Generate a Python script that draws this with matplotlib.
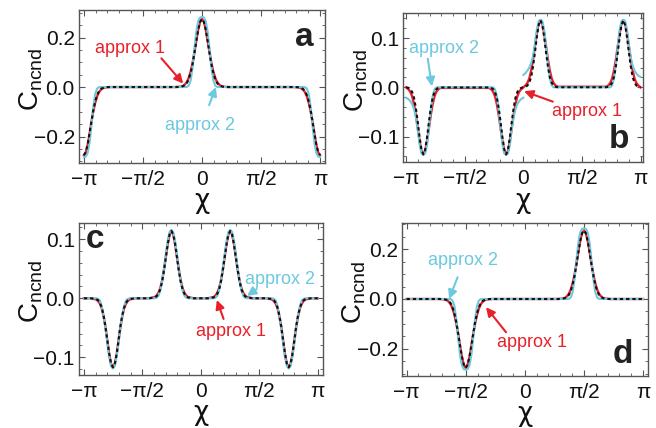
import numpy as np
import matplotlib
matplotlib.use('Agg')
import matplotlib.pyplot as plt
from matplotlib.ticker import MultipleLocator, FixedLocator, FixedFormatter

plt.rcParams['font.family'] = ['Liberation Sans', 'DejaVu Sans']
plt.rcParams['axes.unicode_minus'] = True

# ---- panel a: peak at 0, half dips at the edges ----
x_a = [-3.14, -3.09, -3.04, -2.99, -2.94, -2.89, -2.84, -2.79, -2.74, -2.69, -2.64, -2.59, -2.54, -2.44,
       -0.70, -0.60, -0.55, -0.50, -0.45, -0.40, -0.35, -0.30, -0.25, -0.20, -0.15, -0.10, -0.05, 0.00,
       0.05, 0.10, 0.15, 0.20, 0.25, 0.30, 0.35, 0.40, 0.45, 0.50, 0.55, 0.60, 0.70,
       2.44, 2.54, 2.59, 2.64, 2.69, 2.74, 2.79, 2.84, 2.89, 2.94, 2.99, 3.04, 3.09, 3.14]
exact_a = [-0.275, -0.263, -0.231, -0.186, -0.138, -0.093, -0.058, -0.033, -0.017, -0.008, -0.004, -0.0015, -0.0005, 0.0,
           0.0, 0.0005, 0.0015, 0.004, 0.008, 0.017, 0.033, 0.058, 0.093, 0.138, 0.186, 0.231, 0.263, 0.275,
           0.263, 0.231, 0.186, 0.138, 0.093, 0.058, 0.033, 0.017, 0.008, 0.004, 0.0015, 0.0005, 0.0,
           0.0, -0.0005, -0.0015, -0.004, -0.008, -0.017, -0.033, -0.058, -0.093, -0.138, -0.186, -0.231, -0.263, -0.275]
approx1_a = [-0.275, -0.264, -0.233, -0.189, -0.141, -0.097, -0.063, -0.038, -0.021, -0.011, -0.005, -0.002, -0.001, 0.0,
             0.0, 0.001, 0.002, 0.005, 0.011, 0.021, 0.038, 0.063, 0.097, 0.141, 0.189, 0.233, 0.264, 0.275,
             0.264, 0.233, 0.189, 0.141, 0.097, 0.063, 0.038, 0.021, 0.011, 0.005, 0.002, 0.001, 0.0,
             0.0, -0.001, -0.002, -0.005, -0.011, -0.021, -0.038, -0.063, -0.097, -0.141, -0.189, -0.233, -0.264, -0.275]
approx2_a = [-0.283, -0.281, -0.266, -0.225, -0.155, -0.080, -0.028, -0.006, -0.0005, 0.0, 0.0, 0.0, 0.0, 0.0,
             0.0, 0.0, 0.0, 0.0, 0.0, 0.0005, 0.006, 0.028, 0.080, 0.155, 0.225, 0.266, 0.281, 0.283,
             0.281, 0.266, 0.225, 0.155, 0.080, 0.028, 0.006, 0.0005, 0.0, 0.0, 0.0, 0.0, 0.0,
             0.0, 0.0, 0.0, 0.0, 0.0, -0.0005, -0.006, -0.028, -0.080, -0.155, -0.225, -0.266, -0.281, -0.283]

# ---- panel b: two dips, two peaks; approx 2 jumps at 0 ----
x_b = [-3.14, -3.08, -3.03, -2.98, -2.93, -2.88, -2.83, -2.78, -2.73, -2.68, -2.63, -2.58, -2.53, -2.48, -2.43, -2.38, -2.33, -2.28, -2.22,
       -0.92, -0.86, -0.81, -0.76, -0.71, -0.66, -0.61, -0.56, -0.51, -0.46, -0.41, -0.36, -0.31, -0.26, -0.21, -0.16, -0.11, -0.06, 0.0,
       0.0,
       0.0, 0.06, 0.11, 0.16, 0.21, 0.26, 0.31, 0.36, 0.41, 0.46, 0.51, 0.56, 0.61, 0.66, 0.71, 0.76, 0.81, 0.86, 0.92,
       2.22, 2.28, 2.33, 2.38, 2.43, 2.48, 2.53, 2.58, 2.63, 2.68, 2.73, 2.78, 2.83, 2.88, 2.93, 2.98, 3.03, 3.08, 3.14]
exact_b = [0.0, -0.0012, -0.0036, -0.0095, -0.021, -0.042, -0.070, -0.101, -0.126, -0.136, -0.126, -0.101, -0.070, -0.042, -0.021, -0.0095, -0.0036, -0.0012, -0.0002,
           -0.0002, -0.0012, -0.0036, -0.0095, -0.021, -0.042, -0.070, -0.101, -0.126, -0.136, -0.126, -0.101, -0.070, -0.042, -0.021, -0.0095, -0.0036, -0.0012, 0.0,
           0.0,
           0.0, 0.0012, 0.0036, 0.0095, 0.021, 0.042, 0.070, 0.101, 0.126, 0.136, 0.126, 0.101, 0.070, 0.042, 0.021, 0.0095, 0.0036, 0.0012, 0.0002,
           0.0002, 0.0012, 0.0036, 0.0095, 0.021, 0.042, 0.070, 0.101, 0.126, 0.136, 0.126, 0.101, 0.070, 0.042, 0.021, 0.0095, 0.0036, 0.0012, 0.0]
approx1_b = [0.0, -0.0039, -0.0089, -0.018, -0.034, -0.056, -0.0825, -0.109, -0.129, -0.136, -0.129, -0.109, -0.0825, -0.056, -0.034, -0.018, -0.0089, -0.0039, -0.0012,
             -0.0012, -0.0039, -0.0089, -0.018, -0.034, -0.056, -0.0825, -0.109, -0.129, -0.136, -0.129, -0.109, -0.0825, -0.056, -0.034, -0.018, -0.0089, -0.0039, 0.0,
             0.0,
             0.0, 0.0039, 0.0089, 0.018, 0.034, 0.056, 0.0825, 0.109, 0.129, 0.136, 0.129, 0.109, 0.0825, 0.056, 0.034, 0.018, 0.0089, 0.0039, 0.0012,
             0.0012, 0.0039, 0.0089, 0.018, 0.034, 0.056, 0.0825, 0.109, 0.129, 0.136, 0.129, 0.109, 0.0825, 0.056, 0.034, 0.018, 0.0089, 0.0039, 0.0]
approx2_b = [-0.021, -0.024, -0.028, -0.034, -0.044, -0.060, -0.085, -0.116, -0.134, -0.137, -0.134, -0.116, -0.082, -0.046, -0.018, -0.004, 0.0, 0.0, 0.0,
             0.0, 0.0, 0.0, -0.004, -0.018, -0.046, -0.082, -0.116, -0.134, -0.137, -0.134, -0.116, -0.085, -0.060, -0.044, -0.034, -0.028, -0.024, -0.021,
             np.nan,
             0.025, 0.029, 0.034, 0.040, 0.049, 0.063, 0.086, 0.116, 0.134, 0.137, 0.134, 0.116, 0.082, 0.046, 0.018, 0.004, 0.0, 0.0, 0.0,
             0.0, 0.0, 0.0, 0.004, 0.018, 0.046, 0.082, 0.116, 0.134, 0.137, 0.134, 0.116, 0.085, 0.060, 0.044, 0.034, 0.028, 0.024, 0.021]

# ---- panel c: dips at +-3pi/4, peaks at +-pi/4 ----
x_c = [-3.14,
       -2.96, -2.81, -2.76, -2.71, -2.66, -2.61, -2.56, -2.51, -2.46, -2.41, -2.36, -2.31, -2.26, -2.21, -2.16, -2.11, -2.06, -2.01, -1.96, -1.91, -1.76,
       -1.39, -1.24, -1.19, -1.14, -1.09, -1.04, -0.99, -0.94, -0.89, -0.84, -0.79, -0.74, -0.69, -0.64, -0.59, -0.54, -0.49, -0.44, -0.39, -0.34, -0.19,
       0.19, 0.34, 0.39, 0.44, 0.49, 0.54, 0.59, 0.64, 0.69, 0.74, 0.79, 0.84, 0.89, 0.94, 0.99, 1.04, 1.09, 1.14, 1.19, 1.24, 1.39,
       1.76, 1.91, 1.96, 2.01, 2.06, 2.11, 2.16, 2.21, 2.26, 2.31, 2.36, 2.41, 2.46, 2.51, 2.56, 2.61, 2.66, 2.71, 2.76, 2.81, 2.96,
       3.14]
exact_c = [0.0,
           0.0, -0.0013, -0.0033, -0.0077, -0.016, -0.029, -0.048, -0.071, -0.094, -0.111, -0.117, -0.111, -0.094, -0.071, -0.048, -0.029, -0.016, -0.0077, -0.0033, -0.0013, 0.0,
           0.0, 0.0013, 0.0032, 0.0075, 0.015, 0.028, 0.047, 0.069, 0.091, 0.108, 0.114, 0.108, 0.091, 0.069, 0.047, 0.028, 0.015, 0.0075, 0.0032, 0.0013, 0.0,
           0.0, 0.0013, 0.0032, 0.0075, 0.015, 0.028, 0.047, 0.069, 0.091, 0.108, 0.114, 0.108, 0.091, 0.069, 0.047, 0.028, 0.015, 0.0075, 0.0032, 0.0013, 0.0,
           0.0, -0.0013, -0.0033, -0.0077, -0.016, -0.029, -0.048, -0.071, -0.094, -0.111, -0.117, -0.111, -0.094, -0.071, -0.048, -0.029, -0.016, -0.0077, -0.0033, -0.0013, 0.0,
           0.0]
approx1_c = [0.0,
             0.0, -0.002, -0.0046, -0.0092, -0.017, -0.031, -0.049, -0.072, -0.095, -0.111, -0.117, -0.111, -0.095, -0.072, -0.049, -0.031, -0.017, -0.0092, -0.0046, -0.002, 0.0,
             0.0, 0.002, 0.0045, 0.009, 0.017, 0.030, 0.048, 0.070, 0.092, 0.108, 0.114, 0.108, 0.092, 0.070, 0.048, 0.030, 0.017, 0.009, 0.0045, 0.002, 0.0,
             0.0, 0.002, 0.0045, 0.009, 0.017, 0.030, 0.048, 0.070, 0.092, 0.108, 0.114, 0.108, 0.092, 0.070, 0.048, 0.030, 0.017, 0.009, 0.0045, 0.002, 0.0,
             0.0, -0.002, -0.0046, -0.0092, -0.017, -0.031, -0.049, -0.072, -0.095, -0.111, -0.117, -0.111, -0.095, -0.072, -0.049, -0.031, -0.017, -0.0092, -0.0046, -0.002, 0.0,
             0.0]
approx2_c = [0.0,
             0.0, 0.0, -0.001, -0.004, -0.013, -0.030, -0.051, -0.076, -0.099, -0.115, -0.119, -0.115, -0.099, -0.076, -0.051, -0.030, -0.013, -0.004, -0.001, 0.0, 0.0,
             0.0, 0.0, 0.001, 0.004, 0.013, 0.029, 0.050, 0.074, 0.097, 0.112, 0.116, 0.112, 0.097, 0.074, 0.050, 0.029, 0.013, 0.004, 0.001, 0.0, 0.0,
             0.0, 0.0, 0.001, 0.004, 0.013, 0.029, 0.050, 0.074, 0.097, 0.112, 0.116, 0.112, 0.097, 0.074, 0.050, 0.029, 0.013, 0.004, 0.001, 0.0, 0.0,
             0.0, 0.0, -0.001, -0.004, -0.013, -0.030, -0.051, -0.076, -0.099, -0.115, -0.119, -0.115, -0.099, -0.076, -0.051, -0.030, -0.013, -0.004, -0.001, 0.0, 0.0,
             0.0]

# ---- panel d: dip at -pi/2, peak at pi/2 ----
x_d = [-3.14,
       -2.27, -2.17, -2.12, -2.07, -2.02, -1.97, -1.92, -1.87, -1.82, -1.77, -1.72, -1.67, -1.62, -1.57,
       -1.52, -1.47, -1.42, -1.37, -1.32, -1.27, -1.22, -1.17, -1.12, -1.07, -1.02, -0.97, -0.87,
       0.87, 0.97, 1.02, 1.07, 1.12, 1.17, 1.22, 1.27, 1.32, 1.37, 1.42, 1.47, 1.52, 1.57,
       1.62, 1.67, 1.72, 1.77, 1.82, 1.87, 1.92, 1.97, 2.02, 2.07, 2.12, 2.17, 2.27,
       3.14]
exact_d = [0.0,
           0.0, -0.0005, -0.0015, -0.004, -0.008, -0.017, -0.033, -0.058, -0.093, -0.138, -0.186, -0.231, -0.263, -0.276,
           -0.263, -0.231, -0.186, -0.138, -0.093, -0.058, -0.033, -0.017, -0.008, -0.004, -0.0015, -0.0005, 0.0,
           0.0, 0.0005, 0.0015, 0.004, 0.008, 0.017, 0.033, 0.058, 0.093, 0.138, 0.186, 0.231, 0.263, 0.274,
           0.263, 0.231, 0.186, 0.138, 0.093, 0.058, 0.033, 0.017, 0.008, 0.004, 0.0015, 0.0005, 0.0,
           0.0]
approx1_d = [0.0,
             0.0, -0.001, -0.002, -0.005, -0.011, -0.021, -0.038, -0.063, -0.097, -0.141, -0.189, -0.233, -0.264, -0.276,
             -0.264, -0.233, -0.189, -0.141, -0.097, -0.063, -0.038, -0.021, -0.011, -0.005, -0.002, -0.001, 0.0,
             0.0, 0.001, 0.002, 0.005, 0.011, 0.021, 0.038, 0.063, 0.097, 0.141, 0.189, 0.233, 0.264, 0.274,
             0.264, 0.233, 0.189, 0.141, 0.097, 0.063, 0.038, 0.021, 0.011, 0.005, 0.002, 0.001, 0.0,
             0.0]
approx2_d = [0.0,
             0.0, 0.0, 0.0, 0.0, 0.0, -0.0005, -0.006, -0.028, -0.080, -0.155, -0.225, -0.266, -0.281, -0.283,
             -0.281, -0.266, -0.225, -0.155, -0.080, -0.028, -0.006, -0.0005, 0.0, 0.0, 0.0, 0.0, 0.0,
             0.0, 0.0, 0.0, 0.0, 0.0, 0.0005, 0.006, 0.028, 0.080, 0.155, 0.225, 0.266, 0.281, 0.283,
             0.281, 0.266, 0.225, 0.155, 0.080, 0.028, 0.006, 0.0005, 0.0, 0.0, 0.0, 0.0, 0.0,
             0.0]

x_ticks = [-np.pi, -np.pi / 2, 0, np.pi / 2, np.pi]
x_tick_labels = ['\u2212\u03c0', '\u2212\u03c0/2', '0', '\u03c0/2', '\u03c0']

red = '#e8202a'
cyan = '#6cc9de'

fig = plt.figure(figsize=(6.56, 4.28), dpi=100)

panels = [
    # axes rect, xpad, ylim, yticks, yminor, letter, letter pos, xlabel y, data
    ([0.1204, 0.6185, 0.375, 0.358], 0.13, (-0.308, 0.311), [-0.2, 0.0, 0.2], 0.05, 'a', (0.915, 0.82), -0.16,
     x_a, exact_a, approx1_a, approx2_a),
    ([0.6148, 0.6208, 0.3659, 0.348], 0.075, (-0.152, 0.150), [-0.1, 0.0, 0.1], 0.02, 'b', (0.90, 0.15), -0.175,
     x_b, exact_b, approx1_b, approx2_b),
    ([0.1204, 0.1238, 0.3715, 0.3545], 0.13, (-0.130, 0.127), [-0.1, 0.0, 0.1], 0.02, 'c', (0.066, 0.895), -0.165,
     x_c, exact_c, approx1_c, approx2_c),
    ([0.6128, 0.1222, 0.3745, 0.3561], 0.12, (-0.307, 0.303), [-0.2, 0.0, 0.2], 0.05, 'd', (0.898, 0.142), -0.165,
     x_d, exact_d, approx1_d, approx2_d),
]

axes = []
for rect, xpad, ylim, yticks, yminor, letter, lpos, xly, xs, ex, a1, a2 in panels:
    ax = fig.add_axes(rect)
    ax.plot(xs, a1, color=red, lw=1.7, zorder=2)
    ax.plot(xs, a2, color=cyan, lw=1.5, zorder=3)
    ax.plot(xs, ex, color='#111111', lw=1.5, linestyle=(0, (1.6, 1.4)), zorder=4)
    ax.set_xlim(-np.pi - xpad, np.pi + xpad)
    ax.set_ylim(*ylim)
    ax.xaxis.set_major_locator(FixedLocator(x_ticks))
    ax.xaxis.set_major_formatter(FixedFormatter(x_tick_labels))
    ax.xaxis.set_minor_locator(MultipleLocator(np.pi / 10))
    ax.set_yticks(yticks)
    ax.set_yticklabels(['\u2212%.1f' % -v if v < 0 else '%.1f' % v for v in yticks])
    ax.yaxis.set_minor_locator(MultipleLocator(yminor))
    ax.tick_params(which='both', direction='in', top=True, right=True, color='#555555', labelsize=15,
                   labelcolor='#111111')
    ax.tick_params(which='major', length=4.5, width=0.8)
    ax.tick_params(which='minor', length=2.5, width=0.6)
    ax.tick_params(axis='x', pad=5)
    ax.tick_params(axis='y', pad=3)
    for s in ax.spines.values():
        s.set_color('#555555')
        s.set_linewidth(1.0)
    ax.set_xlabel('\u03c7', fontsize=19, color='#111111', family='DejaVu Sans')
    ax.xaxis.set_label_coords(0.5, xly)
    ax.set_ylabel(r'$\mathregular{C_{ncnd}}$', fontsize=20, color='#111111')
    ax.yaxis.set_label_coords(-0.14, 0.55)
    ax.text(lpos[0], lpos[1], letter, transform=ax.transAxes, fontsize=24, fontweight='bold',
            color='#222222', ha='center', va='center')
    axes.append(ax)

ax_a, ax_b, ax_c, ax_d = axes
arrow = dict(arrowstyle='-|>', lw=1.5, shrinkA=0, shrinkB=0, mutation_scale=13)


def label(ax, txt, color, tpos, tail, tip):
    ax.text(tpos[0], tpos[1], txt, color=color, fontsize=13, ha='center', va='center')
    ax.annotate('', xy=tip, xytext=tail, arrowprops=dict(arrow, color=color))


label(ax_a, 'approx 1', red, (-1.92, 0.154), (-1.08, 0.116), (-0.50, 0.014))
label(ax_a, 'approx 2', cyan, (-0.05, -0.154), (0.19, -0.073), (0.37, 0.0))
label(ax_b, 'approx 2', cyan, (-2.12, 0.079), (-2.56, 0.058), (-2.45, 0.002))
label(ax_b, 'approx 1', red, (1.70, -0.049), (0.79, -0.029), (0.02, -0.008))
label(ax_c, 'approx 2', cyan, (2.13, 0.0325), (1.50, 0.0156), (1.24, 0.004))
label(ax_c, 'approx 1', red, (0.815, -0.0563), (0.61, -0.035), (0.43, -0.003))
label(ax_d, 'approx 2', cyan, (-1.65, 0.153), (-1.785, 0.087), (-2.01, 0.0))
label(ax_d, 'approx 1', red, (0.18, -0.173), (-0.50, -0.133), (-1.03, -0.033))

fig.savefig('out.png', dpi=100)
